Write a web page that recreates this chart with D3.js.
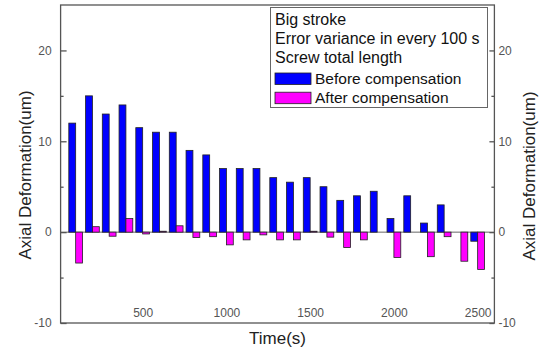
<!DOCTYPE html>
<html>
<head>
<meta charset="utf-8">
<script src="https://cdn.jsdelivr.net/npm/d3@7"></script>
<style>
  html, body { margin: 0; padding: 0; background: #fff; }
  svg { display: block; font-family: "Liberation Sans", Arial, sans-serif; }
</style>
</head>
<body>
<svg id="chart" width="542" height="353"></svg>
<script>
// Sampling instants (s), one group of bars per 100 s interval
const times = [100, 200, 300, 400, 500, 600, 700, 800, 900, 1000,
               1100, 1200, 1300, 1400, 1500, 1600, 1700, 1800, 1900, 2000,
               2100, 2200, 2300, 2400, 2500];
// Axial deformation (um) before compensation
const before = [12, 15, 13, 14, 11.5, 11, 11, 9, 8.5, 7,
                7, 7, 6, 5.5, 6, 5, 3.5, 4, 4.5, 1.5,
                4, 1, 3, 0, -1];
// Axial deformation (um) after compensation
const after = [-3.4, 0.6, -0.45, 1.5, -0.2, 0.1, 0.7, -0.6, -0.5, -1.4,
               -0.85, -0.3, -0.85, -0.85, 0.1, -0.55, -1.7, -0.85, 0, -2.8,
               0, -2.7, -0.5, -3.2, -4.1];
const xTicks = [500, 1000, 1500, 2000, 2500];
const yTicks = [-10, 0, 10, 20];
const yMinorTicks = [-5, 5, 15];
const legendLines = ["Big stroke", "Error variance in every 100 s", "Screw total length"];
const seriesNames = ["Before compensation", "After compensation"];
const seriesColors = ["#0000ff", "#ff00ff"];

const svg = d3.select("#chart");
const plotLeft = 60.6, plotRight = 494.4, plotTop = 5, plotBottom = 323;

const x = d3.scaleLinear().domain([10, 2600]).range([plotLeft, plotRight]);
const y = d3.scaleLinear().domain([-10, 25]).range([plotBottom, plotTop]);
const barSpan = 41; // seconds covered by each bar
const plainNumber = d => String(d); // hyphen-minus, as in the tick labels

const axisColor = "#555";

// zero reference line
svg.append("line")
  .attr("x1", plotLeft).attr("x2", plotRight)
  .attr("y1", y(0)).attr("y2", y(0))
  .attr("stroke", "#666").attr("stroke-width", 1);

// bars: "before" sits left of each instant, "after" to its right
const rows = times.map((t, i) => ({ t, b: before[i], a: after[i] }));
const bars = svg.append("g");
bars.selectAll("rect.before")
  .data(rows.filter(d => d.b !== 0))
  .join("rect")
  .attr("class", "before")
  .attr("x", d => x(d.t - barSpan))
  .attr("width", d => x(d.t) - x(d.t - barSpan))
  .attr("y", d => y(Math.max(0, d.b)))
  .attr("height", d => Math.abs(y(d.b) - y(0)))
  .attr("fill", seriesColors[0])
  .attr("stroke", "#222").attr("stroke-width", 0.8);
bars.selectAll("rect.after")
  .data(rows.filter(d => d.a !== 0))
  .join("rect")
  .attr("class", "after")
  .attr("x", d => x(d.t))
  .attr("width", d => x(d.t + barSpan) - x(d.t))
  .attr("y", d => y(Math.max(0, d.a)))
  .attr("height", d => Math.abs(y(d.a) - y(0)))
  .attr("fill", seriesColors[1])
  .attr("stroke", "#222").attr("stroke-width", 0.8);

// frame
svg.append("rect")
  .attr("x", plotLeft).attr("y", plotTop)
  .attr("width", plotRight - plotLeft).attr("height", plotBottom - plotTop)
  .attr("fill", "none").attr("stroke", axisColor).attr("stroke-width", 1.3);

function styleAxis(g) {
  g.select(".domain").remove();
  g.selectAll("line").attr("stroke", axisColor).attr("stroke-width", 1.3);
  g.selectAll("text").attr("fill", "#555").attr("font-size", 12)
    .attr("font-family", "'Liberation Sans', Arial, sans-serif");
}

// left axis
svg.append("g").attr("transform", `translate(${plotLeft},0)`)
  .call(d3.axisLeft(y).tickValues(yTicks).tickSize(-6).tickPadding(9).tickFormat(plainNumber))
  .call(styleAxis);
svg.append("g").attr("transform", `translate(${plotLeft},0)`)
  .call(d3.axisLeft(y).tickValues(yMinorTicks).tickSize(-3).tickFormat(""))
  .call(styleAxis);

// right axis
svg.append("g").attr("transform", `translate(${plotRight},0)`)
  .call(d3.axisRight(y).tickValues(yTicks).tickSize(-5).tickPadding(4).tickFormat(plainNumber))
  .call(styleAxis);
svg.append("g").attr("transform", `translate(${plotRight},0)`)
  .call(d3.axisRight(y).tickValues(yMinorTicks).tickSize(-3).tickFormat(""))
  .call(styleAxis);

// bottom axis: labels sit just inside the frame
svg.append("g").attr("transform", `translate(0,${plotBottom})`)
  .call(d3.axisBottom(x).tickValues(xTicks).tickSize(0).tickFormat(plainNumber))
  .call(styleAxis)
  .call(g => g.selectAll("text").attr("y", -6).attr("dy", 0));

// axis titles
svg.append("text")
  .attr("x", (plotLeft + plotRight) / 2).attr("y", 344)
  .attr("text-anchor", "middle").attr("font-size", 17).attr("fill", "#222")
  .text("Time(s)");
svg.append("text")
  .attr("transform", "translate(31,175) rotate(-90)")
  .attr("text-anchor", "middle").attr("font-size", 17).attr("fill", "#222")
  .text("Axial Deformation(um)");
svg.append("text")
  .attr("transform", "translate(535,176) rotate(-90)")
  .attr("text-anchor", "middle").attr("font-size", 17).attr("fill", "#222")
  .text("Axial Deformation(um)");

// legend
const lg = svg.append("g");
lg.append("rect")
  .attr("x", 270.5).attr("y", 7.5).attr("width", 217).attr("height", 100)
  .attr("fill", "#fff").attr("stroke", "#666").attr("stroke-width", 1);
legendLines.forEach((s, i) => {
  lg.append("text").attr("x", 275).attr("y", 25 + i * 19.2)
    .attr("font-size", 16).attr("fill", "#111").text(s);
});
seriesNames.forEach((s, i) => {
  const yy = 73 + i * 19.2;
  lg.append("rect").attr("x", 275).attr("y", yy).attr("width", 36).attr("height", 11.5)
    .attr("fill", seriesColors[i]).attr("stroke", "#222").attr("stroke-width", 0.8);
  lg.append("text").attr("x", 315).attr("y", yy + 10.5)
    .attr("font-size", 15.5).attr("fill", "#111").text(s);
});
</script>
</body>
</html>
